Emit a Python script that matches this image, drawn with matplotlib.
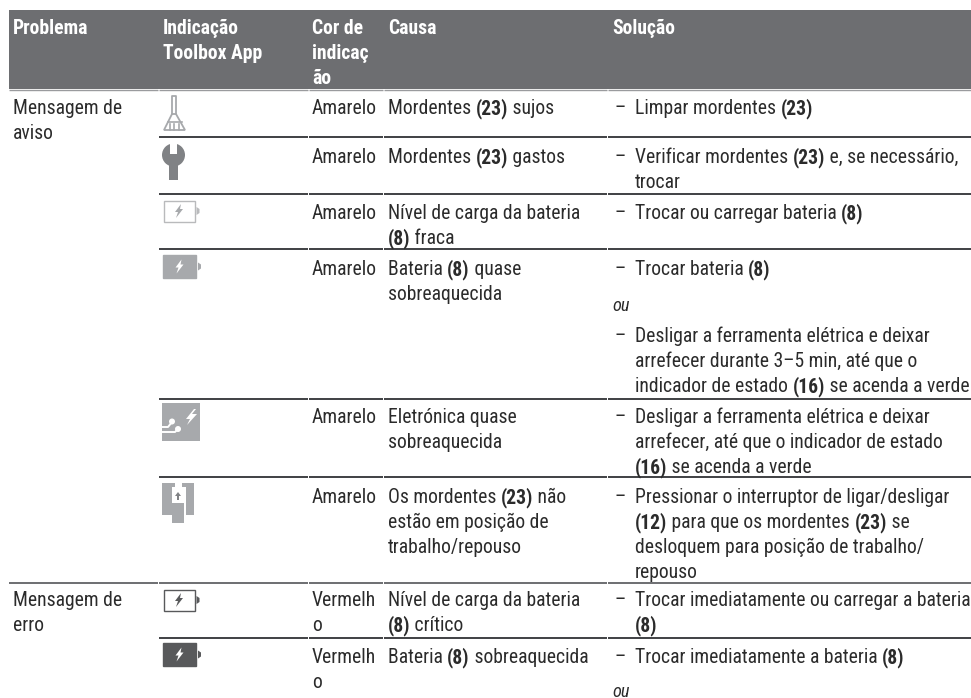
import matplotlib
matplotlib.use('Agg')
import matplotlib.pyplot as plt
from matplotlib.patches import Rectangle, Polygon, Circle

# textos da tabela ( ** marca negrito )
cabecalho = ['Problema', 'Indicação\nToolbox App', 'Cor de\nindicaç\não', 'Causa', 'Solução']
problemas = ['Mensagem de\naviso', 'Mensagem de\nerro']
cores = ['Amarelo', 'Amarelo', 'Amarelo', 'Amarelo', 'Amarelo', 'Amarelo', 'Vermelh\no', 'Vermelh\no']
causas = [
    'Mordentes **(23)** sujos',
    'Mordentes **(23)** gastos',
    'Nível de carga da bateria\n**(8)** fraca',
    'Bateria **(8)** quase\nsobreaquecida',
    'Eletrónica quase\nsobreaquecida',
    'Os mordentes **(23)** não\nestão em posição de\ntrabalho/repouso',
    'Nível de carga da bateria\n**(8)** crítico',
    'Bateria **(8)** sobreaquecida',
]
solucoes = [
    ['Limpar mordentes **(23)**'],
    ['Verificar mordentes **(23)** e, se necessário,\ntrocar'],
    ['Trocar ou carregar bateria **(8)**'],
    ['Trocar bateria **(8)**', 'Desligar a ferramenta elétrica e deixar\narrefecer durante 3–5 min, até que o\nindicador de estado **(16)** se acenda a verde'],
    ['Desligar a ferramenta elétrica e deixar\narrefecer, até que o indicador de estado\n**(16)** se acenda a verde'],
    ['Pressionar o interruptor de ligar/desligar\n**(12)** para que os mordentes **(23)** se\ndesloquem para posição de trabalho/\nrepouso'],
    ['Trocar imediatamente ou carregar a bateria\n**(8)**'],
    ['Trocar imediatamente a bateria **(8)**'],
]

# posicoes em pixels
col_x = [13, 163, 312, 388, 612]
base_linhas = [114, 163, 219, 275, 423, 503, 606, 663]
base_sol2 = {3: 342}
base_ou = [311, 697]
linhas_y = [137, 194, 249, 399, 477, 583, 638]

FONTE = ['Roboto Condensed', 'Liberation Sans']
TAM = 14.15
PASSO = 25
COR_TXT = '#2b2b2b'

fig = plt.figure(figsize=(9.71, 6.98), dpi=100)
ax = fig.add_axes([0, 0, 1, 1])
ax.set_xlim(0, 971)
ax.set_ylim(698, 0)
ax.axis('off')
rend = fig.canvas.get_renderer()


def largura(s, peso):
    t = ax.text(0, 0, 'x' + s + 'x', family=FONTE, fontsize=TAM, weight=peso)
    a = t.get_window_extent(rend).width
    t.set_text('xx')
    b = t.get_window_extent(rend).width
    t.remove()
    return a - b


def escreve(x, y, texto, cor=COR_TXT, negrito=False):
    for i, linha in enumerate(texto.split('\n')):
        xx = x
        for j, parte in enumerate(linha.split('**')):
            if not parte:
                continue
            peso = 'bold' if (j % 2 == 1 or negrito) else 'normal'
            ax.text(xx, y + i * PASSO, parte, family=FONTE, fontsize=TAM, weight=peso,
                    color=cor, va='baseline', ha='left')
            xx += largura(parte, peso)


def bateria(x, y, w, h, borda, fundo, raio):
    ax.add_patch(Rectangle((x, y), w, h, fc=fundo, ec=borda, lw=1))
    ax.add_patch(Polygon([(x + w + 2, y + h / 2 - 4), (x + w + 5, y + h / 2 - 2), (x + w + 5, y + h / 2 + 2),
                          (x + w + 2, y + h / 2 + 4)], fc=borda, ec='none'))
    cx, cy = x + w / 2, y + h / 2
    ax.add_patch(Polygon([(cx + 2, cy - 7), (cx - 4, cy + 1), (cx - 1, cy + 1), (cx - 3, cy + 7), (cx + 4, cy - 2),
                          (cx + 1, cy - 2)], fc=raio, ec='none'))


# cabecalho
ax.add_patch(Rectangle((9, 10), 962, 79, fc='#6d6e71', ec='none'))
for x, h in zip(col_x, cabecalho):
    escreve(x, 34, h, cor='white', negrito=True)

# linhas horizontais
segmentos = [(159, 308), (309, 383), (384, 607), (608, 971)]
for y in linhas_y:
    for a, b in segmentos:
        cor = '#6d6e71' if y == 583 else '#3f4043'
        ax.plot([a, b], [y, y], color=cor, lw=1.4, solid_capstyle='butt')
    if y == 583:
        ax.plot([9, 158], [y, y], color='#6d6e71', lw=1.4, solid_capstyle='butt')
for a, b in [(9, 158)] + segmentos:
    ax.plot([a, b], [90, 90], color='#9a9b9e', lw=1, solid_capstyle='butt')

# corpo
escreve(col_x[0], base_linhas[0], problemas[0])
escreve(col_x[0], base_linhas[6], problemas[1])
for i, y in enumerate(base_linhas):
    escreve(col_x[2], y, cores[i])
    escreve(col_x[3], y, causas[i])
    for k, sol in enumerate(solucoes[i]):
        yy = base_sol2[i] if k == 1 else y
        ax.text(615, yy, '–', family=FONTE, fontsize=TAM, color=COR_TXT)
        escreve(635, yy, sol)
for y in base_ou:
    ax.text(612, y, 'ou', family=FONTE, fontsize=TAM - 1, style='italic', color=COR_TXT)

# icones
cinza = '#a7a9ac'
# vassoura
ax.plot([172, 172, 176, 176], [114, 96, 96, 114], color=cinza, lw=1.3)
ax.add_patch(Polygon([(172, 114), (176, 114), (185, 130), (164, 130)], fc='white', ec=cinza, lw=1.3))
ax.plot([168, 182], [122, 122], color=cinza, lw=1.2)
for x in [169.5, 174, 178.5]:
    ax.plot([x, x], [124, 130], color=cinza, lw=1.2)
# chave
cz2 = '#808285'
ax.add_patch(Circle((173.5, 155), 11.5, fc=cz2, ec='none'))
ax.add_patch(Rectangle((169, 160), 9, 19.5, fc=cz2, ec='none'))
ax.add_patch(Rectangle((170, 142), 7, 12, fc='white', ec='none'))
# baterias
bateria(163.5, 200.5, 31, 21, '#b9babc', 'white', cinza)
bateria(163, 255, 33, 23, cinza, cinza, 'white')
bateria(163.5, 589.5, 31, 21, '#58595b', 'white', '#58595b')
bateria(163, 643, 33, 23, '#58595b', '#58595b', 'white')
# eletronica
ax.add_patch(Rectangle((162, 403), 38, 38, fc=cinza, ec='none'))
ax.add_patch(Polygon([(194, 409), (186, 419), (190, 419), (187, 425), (197, 414), (192, 414), (196, 409)], fc='white', ec='none'))
ax.plot([162, 168, 172], [427, 427, 422], color='white', lw=1.4)
ax.plot([162, 175, 178], [432, 432, 429], color='white', lw=1.4)
ax.add_patch(Circle((172, 421.5), 3, fc='white', ec='none'))
ax.add_patch(Circle((178, 429), 3, fc='white', ec='none'))
# mordentes
ax.add_patch(Rectangle((162, 483), 10, 32, fc=cinza, ec='none'))
ax.add_patch(Rectangle((172, 483), 3, 4, fc=cinza, ec='none'))
ax.add_patch(Rectangle((186, 483), 8, 32, fc=cinza, ec='none'))
ax.add_patch(Rectangle((182, 483), 4, 4, fc=cinza, ec='none'))
ax.add_patch(Rectangle((172, 503), 12, 20, fc=cinza, ec='none'))
ax.add_patch(Polygon([(178, 492), (175, 496), (177, 496), (177, 500), (179, 500), (179, 496), (181, 496)], fc='#808285', ec='none'))

fig.savefig('out.png', dpi=100)
